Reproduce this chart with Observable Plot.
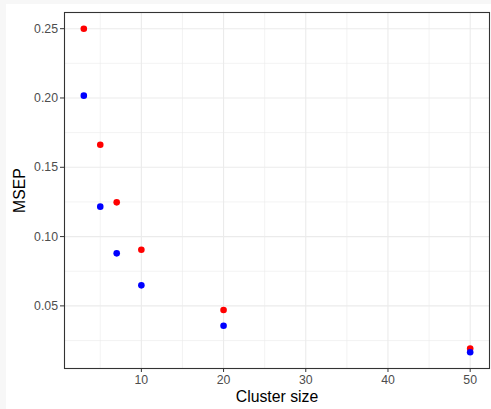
<!DOCTYPE html>
<html><head><meta charset="utf-8">
<script src="https://cdn.jsdelivr.net/npm/d3@7"></script>
<script src="https://cdn.jsdelivr.net/npm/@observablehq/plot@0.6"></script>
<style>
html,body{margin:0;padding:0;background:#f7f7f7;}
#chart{position:absolute;left:6px;top:4px;width:485px;height:405px;background:#fff;}
#chart svg{display:block;font-family:"Liberation Sans",Arial,sans-serif;}
g[aria-label="x-axis label"] text, g[aria-label="y-axis label"] text{fill:#000;font-size:15.8px;}
g[aria-label="x-axis label"], g[aria-label="y-axis label"]{fill:#000;font-size:15.8px;}
</style></head><body><div id="chart"></div>
<script>
const clusterSize = [3, 5, 7, 10, 20, 50];
const msepRed  = [0.2500, 0.1663, 0.1247, 0.0905, 0.0470, 0.0193];
const msepBlue = [0.2017, 0.1216, 0.0879, 0.0648, 0.0357, 0.0165];
const xTicks = [10, 20, 30, 40, 50];
const yTicks = [0.05, 0.10, 0.15, 0.20, 0.25];
const xMinor = [5, 15, 25, 35, 45];
const yMinor = [0.025, 0.075, 0.125, 0.175, 0.225];
const xLabel = "Cluster size";
const yLabel = "MSEP";

const red = clusterSize.map((x, i) => ({x, y: msepRed[i]}));
const blue = clusterSize.map((x, i) => ({x, y: msepBlue[i]}));

function expand(vals) {
  const [a, b] = d3.extent(vals);
  const p = (b - a) * 0.05;
  return [a - p, b + p];
}
const xDom = expand(clusterSize);
const yDom = expand(msepRed.concat(msepBlue));

const grid = "#ebebeb";
const chart = Plot.plot({
  width: 485,
  height: 405,
  marginLeft: 58,
  marginRight: 2,
  marginTop: 8,
  marginBottom: 41,
  style: {background: "transparent", fontFamily: '"Liberation Sans", Arial, sans-serif'},
  x: {domain: xDom},
  y: {domain: yDom},
  marks: [
    Plot.ruleX(xMinor, {stroke: grid, strokeWidth: 0.6}),
    Plot.ruleY(yMinor, {stroke: grid, strokeWidth: 0.6}),
    Plot.ruleX(xTicks, {stroke: grid, strokeWidth: 1.1}),
    Plot.ruleY(yTicks, {stroke: grid, strokeWidth: 1.1}),
    Plot.axisX({ticks: xTicks, tickSize: 4, tickPadding: 3, stroke: "#333333", fill: "#4d4d4d", fontSize: 12.3,
      tickFormat: d3.format("d"), label: xLabel, labelAnchor: "center", labelOffset: 33.5, labelArrow: "none"}),
    Plot.axisY({ticks: yTicks, tickSize: 4, tickPadding: 2.5, stroke: "#333333", fill: "#4d4d4d", fontSize: 12.3,
      tickFormat: d3.format(".2f"), label: yLabel, labelAnchor: "center", labelOffset: 51, labelArrow: "none"}),
    Plot.frame({stroke: "#333333", strokeWidth: 1.1}),
    Plot.dot(red, {x: "x", y: "y", r: 3.3, fill: "#ff0000", stroke: null}),
    Plot.dot(blue, {x: "x", y: "y", r: 3.3, fill: "#0000ff", stroke: null})
  ]
});
document.getElementById("chart").appendChild(chart);
</script></body></html>
